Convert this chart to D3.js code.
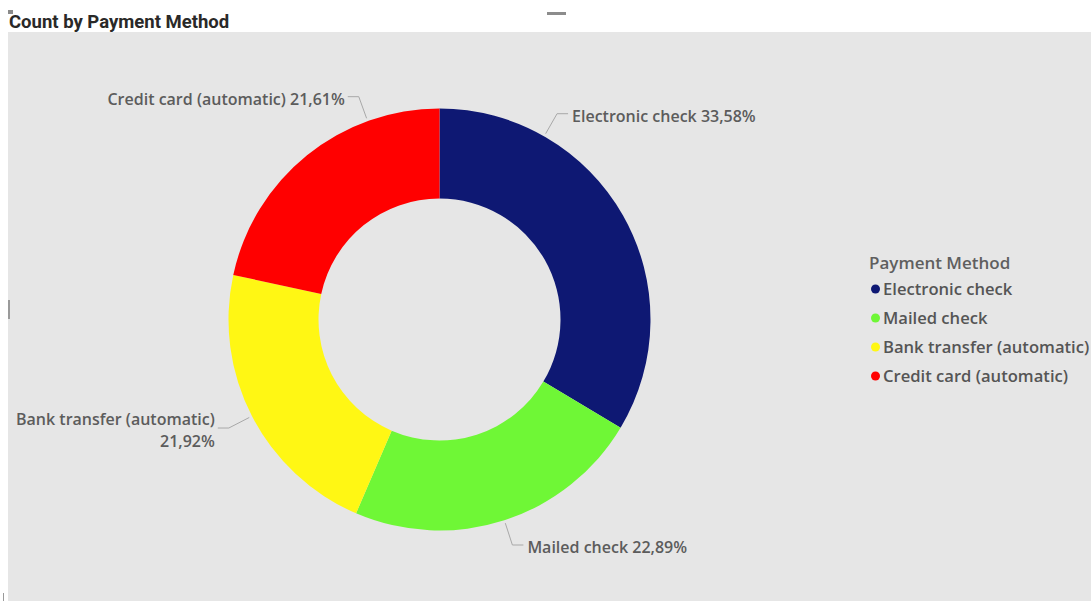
<!DOCTYPE html>
<html>
<head>
<meta charset="utf-8">
<script src="https://d3js.org/d3.v7.min.js"></script>
<style>
  html, body { margin: 0; padding: 0; background: #ffffff; }
  svg { display: block; }
</style>
</head>
<body>
<svg id="chart" width="1091" height="601"></svg>
<script>
// Payment method share of customers
const methods = ["Electronic check", "Mailed check", "Bank transfer (automatic)", "Credit card (automatic)"];
const shares = [33.58, 22.89, 21.92, 21.61];
const colors = ["#0e1873", "#6ff736", "#fff714", "#ff0000"];
const legendTitle = "Payment Method";
const chartTitle = "Count by Payment Method";

// Where along each slice the leader line attaches (0 = start, 1 = end)
const labelAttach = [0.246, 0.5, 0.5, 0.744];

const W = 1091, H = 601;
const svg = d3.select("#chart");
const labelFont = "'Open Sans', 'Noto Sans', sans-serif";

// Panel chrome
svg.append("rect").attr("x", 8).attr("y", 32).attr("width", W - 8).attr("height", H - 32).attr("fill", "#e6e6e6");
svg.append("rect").attr("x", 8).attr("y", 10).attr("width", 5).attr("height", 4).attr("fill", "#8a8a8a");
svg.append("rect").attr("x", 547).attr("y", 12).attr("width", 19).attr("height", 3).attr("fill", "#8c8c8c");
svg.append("rect").attr("x", 8).attr("y", 300).attr("width", 2).attr("height", 19).attr("fill", "#9a9a9a");
svg.append("rect").attr("x", 3).attr("y", 593).attr("width", 1).attr("height", 8).attr("fill", "#9a9a9a");

svg.append("text")
  .attr("x", 9).attr("y", 28)
  .attr("font-family", "'Roboto', 'DejaVu Sans', sans-serif")
  .attr("font-weight", 700)
  .attr("font-size", 18.5)
  .attr("fill", "#2a2928")
  .text(chartTitle);

// Donut
const cx = 439.5, cy = 319.5, rOuter = 211, rInner = 121;
const data = methods.map((m, i) => ({ method: m, share: shares[i], color: colors[i], attach: labelAttach[i] }));

const pie = d3.pie().value(d => d.share).sort(null);
const arcs = pie(data);
const arc = d3.arc().innerRadius(rInner).outerRadius(rOuter);

const g = svg.append("g").attr("transform", `translate(${cx},${cy})`);
g.selectAll("path.slice")
  .data(arcs)
  .join("path")
  .attr("class", "slice")
  .attr("d", arc)
  .attr("fill", d => d.data.color);

// Data labels with leader lines
const fmt = v => d3.format(".2f")(v).replace(".", ",") + "%";
const pointAt = (angle, r) => [Math.sin(angle) * r, -Math.cos(angle) * r];

arcs.forEach(a => {
  const ang = a.startAngle + (a.endAngle - a.startAngle) * a.data.attach;
  const p0 = pointAt(ang, rOuter + 3);
  const right = Math.sin(ang) > 0;
  const elbow = pointAt(ang, rOuter + 26);
  const end = [elbow[0] + (right ? 11 : -11), elbow[1]];
  g.append("polyline")
    .attr("points", [p0, elbow, end].map(p => p.join(",")).join(" "))
    .attr("fill", "none")
    .attr("stroke", "#a8a8a8")
    .attr("stroke-width", 1);

  const tx = end[0] + (right ? 4 : -3);
  const t = g.append("text")
    .attr("x", tx)
    .attr("font-family", labelFont)
    .attr("font-size", 16)
    .attr("font-weight", 600)
    .attr("fill", "#5c5c5c")
    .attr("text-anchor", right ? "start" : "end");
  if (a.data.method.startsWith("Bank")) {
    // long label wraps to two lines
    t.attr("y", end[1] - 3);
    t.append("tspan").attr("x", tx).text(a.data.method);
    t.append("tspan").attr("x", tx).attr("dy", 22).text(fmt(a.data.share));
  } else {
    t.attr("y", end[1] + 8).text(`${a.data.method} ${fmt(a.data.share)}`);
  }
});

// Legend
const lg = svg.append("g").attr("transform", "translate(869,263)");
lg.append("text")
  .attr("x", 0).attr("y", 6)
  .attr("font-family", labelFont)
  .attr("font-size", 17)
  .attr("font-weight", 600)
  .attr("fill", "#5f5f5f")
  .text(legendTitle);

const items = lg.selectAll("g.item")
  .data(data)
  .join("g")
  .attr("class", "item")
  .attr("transform", (d, i) => `translate(0,${26 + i * 29})`);
items.append("circle").attr("cx", 6.5).attr("cy", 0).attr("r", 4.5).attr("fill", d => d.color);
items.append("text")
  .attr("x", 14).attr("y", 6)
  .attr("font-family", labelFont)
  .attr("font-size", 16.6)
  .attr("font-weight", 600)
  .attr("fill", "#555555")
  .text(d => d.method);
</script>
</body>
</html>
